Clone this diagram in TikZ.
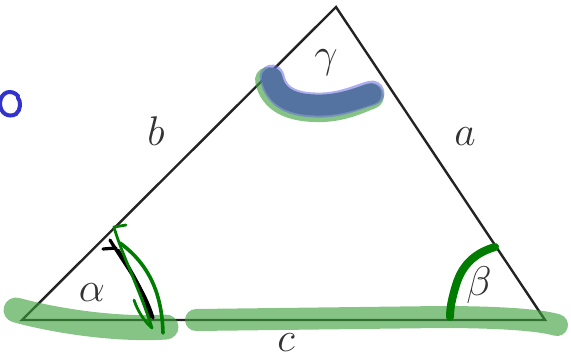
\documentclass[tikz,border=0pt]{standalone}
\usepackage{tikz}
\usetikzlibrary{calc}
\definecolor{edgeclr}{RGB}{35, 35, 35}
\definecolor{hlgreen}{RGB}{60, 160, 60}
\definecolor{pengreen}{RGB}{0, 125, 0}
\definecolor{penblue}{RGB}{50, 50, 205}
\definecolor{hlblue}{RGB}{85, 115, 160}
\definecolor{hlrim}{RGB}{105, 105, 225}
\tikzset{
  edge/.style    = {draw=edgeclr, line width=1.2pt, line join=miter},
  lbl/.style     = {inner sep=0pt, font=\fontsize{22}{24}\selectfont, text=black!80},
  marker/.style  = {draw=hlgreen, opacity=0.62, line width=11pt, line cap=round},
  pen/.style     = {draw=pengreen, line width=1.4pt, line cap=round, line join=round},
  inkpen/.style  = {draw=black, line width=1.6pt, line cap=round, line join=round},
}

\begin{document}
\begin{tikzpicture}[x=0.5pt, y=-0.5pt]
        \useasboundingbox (0,0) rectangle (571,359);
        % -- Triangle -----------------------------------------------------
        \coordinate (A) at (22,320);
        \coordinate (B) at (545,320);
        \coordinate (C) at (336,7);
        \draw[edge] (A) -- (B) -- (C) -- cycle;

        % -- Side and angle labels ---------------------------------------
        \node[lbl] (lblb) at (156,131) {$b$};
        \node[lbl] (lbla) at (465,137) {$a$};
        \node[lbl] (lblc) at (286,343) {$c$};
        \node[lbl] (lblgamma) at (326,63) {$\gamma$};
        \node[lbl] (lblalpha) at (92,293) {$\alpha$};
        \node[lbl] (lblbeta) at (479,285) {$\beta$};

        % -- Highlighter along c -----------------------------------------
        \draw[marker, line width=12.5pt] (16,310) .. controls (60,322) and (120,330) .. (166,327);
        \draw[marker] (196,320) -- (440,317) .. controls (500,317) and (540,320) .. (557,325);

        % -- Marker stroke at gamma --------------------------------------
        \draw[marker, line width=13pt] (268,80) .. controls (272,100) and (290,110) .. (323,109)
            .. controls (345,108) and (360,100) .. (371,96);
        \draw[draw=hlrim, opacity=0.55, line width=12.5pt, line cap=round]
            (272,77) .. controls (276,97) and (292,106) .. (323,105)
            .. controls (345,104) and (360,96) .. (372,93);
        \draw[draw=hlblue, line width=10.5pt, line cap=round]
            (272,78) .. controls (276,97) and (292,106) .. (323,105)
            .. controls (345,104) and (360,97) .. (371,94);

        % -- Pen strokes at alpha ----------------------------------------
        \draw[inkpen] (103,249) -- (116,248);
        \draw[inkpen] (110,240) .. controls (125,265) and (145,290) .. (153,318);
        \draw[inkpen] (118,250) .. controls (132,272) and (146,295) .. (150,317);
        \draw[pen] (126,225) -- (114,227) .. controls (120,250) and (140,290) .. (152,328)
            .. controls (145,322) and (138,312) .. (134,300);
        \draw[pen, line width=1.8pt] (120,243) .. controls (150,265) and (162,295) .. (163,333);

        % -- Pen stroke at beta ------------------------------------------
        \draw[pen, line width=4pt] (495,247) .. controls (478,252) and (463,262) .. (456,285)
            .. controls (452,298) and (450,308) .. (450,317);

        % -- Stray mark on the left --------------------------------------
        \draw[draw=penblue, line width=2pt, line cap=round]
            (18,96) .. controls (12,89) and (1,91) .. (0,103)
            .. controls (0,114) and (9,118) .. (16,114)
            .. controls (21,110) and (21,101) .. (18,98);
    \end{tikzpicture}
\end{document}
